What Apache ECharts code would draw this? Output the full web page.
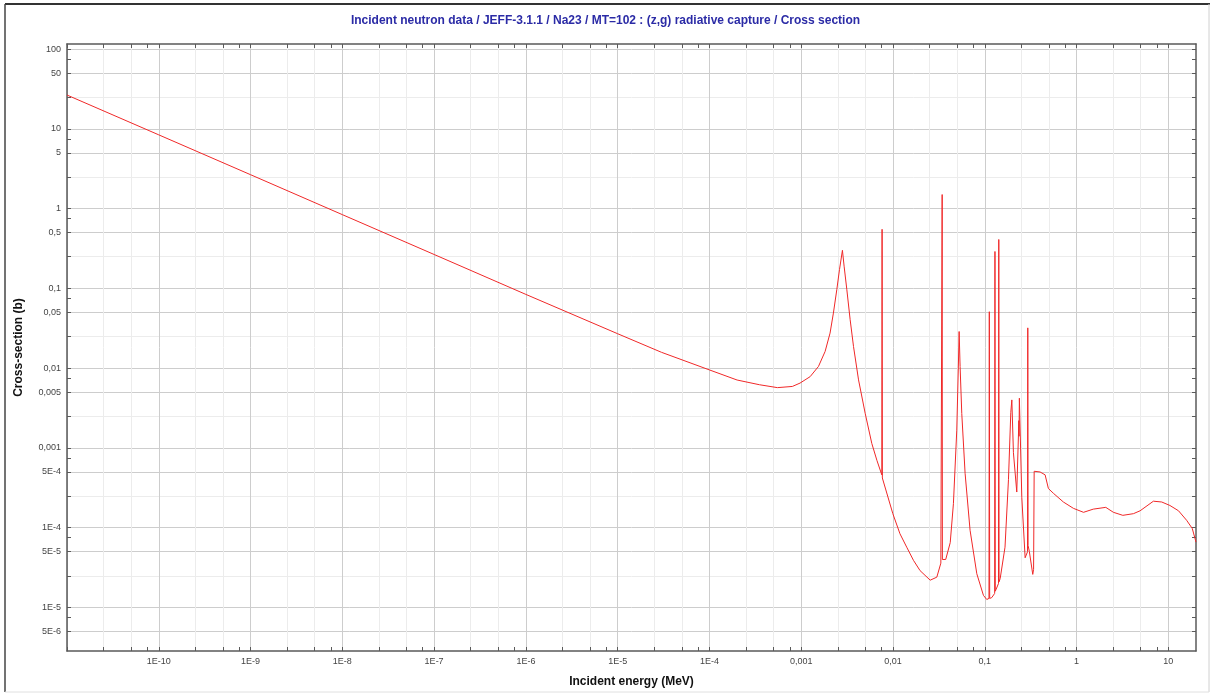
<!DOCTYPE html>
<html>
<head>
<meta charset="utf-8">
<title>Na23 (z,g) radiative capture</title>
<script src="https://cdn.jsdelivr.net/npm/echarts@6/dist/echarts.min.js"></script>
<style>
  html, body { margin: 0; padding: 0; background: #fff; }
  #chart { width: 1211px; height: 696px; }
</style>
</head>
<body>
<div id="chart"></div>
<script>
// thermal 1/v part (MeV, barn)
const energyLow = [1e-11, 1e-10, 1e-9, 1e-8, 1e-7, 1e-6, 1e-5, 3e-5, 1e-4, 2e-4, 3.5e-4, 5.5e-4, 8e-4, 9.7e-4];
const sigmaLow = [26.5, 8.4, 2.66, 0.84, 0.266, 0.084, 0.027, 0.0158, 0.0095, 0.0071, 0.0062, 0.0057, 0.0059, 0.0065];

// resolved resonances
const energyRes = [
  1.25e-3, 1.54e-3, 1.82e-3, 2.06e-3, 2.24e-3, 2.44e-3, 2.61e-3, 2.81e-3,
  2.93e-3, 3.14e-3, 3.41e-3, 3.71e-3, 4.21e-3, 4.97e-3, 5.87e-3, 6.67e-3,
  7.55e-3, 7.6e-3, 7.65e-3,
  9.95e-3, 0.0119, 0.0141, 0.0167, 0.0197, 0.0254, 0.030, 0.0332,
  0.0341, 0.0343, 0.0345, 0.0375,
  0.0420, 0.0455, 0.0495, 0.0516, 0.0525, 0.0538, 0.0561, 0.061, 0.0691, 0.0818, 0.0966, 0.105,
  0.111, 0.112, 0.113, 0.119,
  0.128, 0.129, 0.130, 0.133,
  0.141, 0.142, 0.143, 0.147,
  0.166, 0.181, 0.192, 0.197, 0.205, 0.223, 0.235, 0.236, 0.238, 0.253, 0.275,
  0.292, 0.294, 0.296, 0.306, 0.333, 0.340
];
const sigmaRes = [
  0.00783, 0.0105, 0.0162, 0.0275, 0.049, 0.0964, 0.172, 0.30,
  0.19, 0.096, 0.0405, 0.0187, 0.00713, 0.00272, 0.00114, 7.0e-4,
  4.6e-4, 0.55, 4.2e-4,
  1.5e-4, 8.4e-5, 5.7e-5, 3.9e-5, 2.9e-5, 2.2e-5, 2.4e-5, 3.6e-5,
  3.8e-5, 1.5, 4.0e-5, 4.0e-5,
  6.5e-5, 2.0e-4, 1.67e-3, 0.0116, 0.0288, 0.0105, 2.7e-3, 4.8e-4, 9.3e-5, 2.65e-5, 1.42e-5, 1.26e-5,
  1.3e-5, 0.051, 1.3e-5, 1.33e-5,
  1.5e-5, 0.29, 1.6e-5, 1.7e-5,
  2.0e-5, 0.41, 2.1e-5, 2.3e-5,
  5.7e-5, 4.0e-4, 0.0028, 0.0040, 8.7e-4, 2.8e-4, 0.0022, 0.0014, 0.0042, 2.4e-4, 4.2e-5,
  5.0e-5, 0.032, 6.0e-5, 5.0e-5, 2.6e-5, 3.0e-5
];

// fast range up to 20 MeV
const energyHigh = [0.345, 0.40, 0.454, 0.493, 0.559, 0.718, 0.923, 1.19, 1.52, 2.08, 2.52, 3.19, 4.16, 4.92, 6.87, 8.47, 10.4, 12.9, 15.8, 18.2, 20];
const sigmaHigh = [5.1e-4, 5.0e-4, 4.6e-4, 3.1e-4, 2.7e-4, 2.1e-4, 1.75e-4, 1.56e-4, 1.71e-4, 1.8e-4, 1.56e-4, 1.43e-4, 1.5e-4, 1.63e-4, 2.15e-4, 2.1e-4, 1.9e-4, 1.63e-4, 1.24e-4, 9.8e-5, 6.6e-5];

// axes
const xMin = 1e-11, xMax = 20;
const yMin = 2.85e-6, yMax = 115.6;
const xTickValues = [1e-10, 1e-9, 1e-8, 1e-7, 1e-6, 1e-5, 1e-4, 1e-3, 1e-2, 0.1, 1, 10];
const xTickLabels = ['1E-10', '1E-9', '1E-8', '1E-7', '1E-6', '1E-5', '1E-4', '0,001', '0,01', '0,1', '1', '10'];
const yTickValues = [100, 50, 10, 5, 1, 0.5, 0.1, 0.05, 0.01, 0.005, 0.001, 5e-4, 1e-4, 5e-5, 1e-5, 5e-6];
const yTickLabels = ['100', '50', '10', '5', '1', '0,5', '0,1', '0,05', '0,01', '0,005', '0,001', '5E-4', '1E-4', '5E-5', '1E-5', '5E-6'];
const xTickSteps = [1, 2.5, 5, 7.5];
const xLightSteps = [2.5, 5];
const yTickSteps = [1, 2.5, 5, 7.5];
const yMajorSteps = [1, 5];
const yLightSteps = [2.5];

const lg = Math.log10;
const FONT = '"Liberation Sans", Arial, sans-serif';

// positions (in log10) of ticks per decade inside [lo, hi]
function decadeValues(lo, hi, steps) {
  const out = [];
  for (let e = Math.floor(lg(lo)) - 1; e <= Math.ceil(lg(hi)); e++) {
    steps.forEach(s => {
      const v = lg(s) + e;
      if (v >= lg(lo) - 1e-9 && v <= lg(hi) + 1e-9) out.push(v);
    });
  }
  return out;
}
function labelFor(values, labels) {
  return v => {
    const i = values.findIndex(t => Math.abs(lg(t) - v) < 1e-6);
    return i < 0 ? '' : labels[i];
  };
}

const energy = energyLow.concat(energyRes, energyHigh);
const sigma = sigmaLow.concat(sigmaRes, sigmaHigh);
const points = energy.map((e, i) => [lg(e), lg(sigma[i])]);

const frameLine = { show: true, onZero: false, lineStyle: { color: '#5a5a5a', width: 1.5 } };
const tickStyle = { color: '#5a5a5a', width: 1 };
const labelStyle = { fontFamily: FONT, fontSize: 9, color: '#444' };
const nameStyle = { fontFamily: FONT, fontSize: 12, fontWeight: 'bold', color: '#111' };
const xRange = { type: 'value', min: lg(xMin), max: lg(xMax) };
const yRange = { type: 'value', min: lg(yMin), max: lg(yMax) };
const xTicksAll = decadeValues(xMin, xMax, xTickSteps);
const yTicksAll = decadeValues(yMin, yMax, yTickSteps);

function gridAxis(range, pos, values, color) {
  return Object.assign({}, range, {
    position: pos,
    axisLine: { show: false, onZero: false },
    axisTick: { show: false, customValues: values },
    axisLabel: { show: false },
    splitLine: { show: true, lineStyle: { color: color, width: 1 } }
  });
}

const chart = echarts.init(document.getElementById('chart'));
chart.setOption({
  animation: false,
  title: {
    text: 'Incident neutron data / JEFF-3.1.1 / Na23 / MT=102 : (z,g) radiative capture / Cross section',
    left: 'center',
    top: 10,
    textStyle: { fontFamily: FONT, fontSize: 12, fontWeight: 'bold', color: '#2b2ba6' }
  },
  graphic: [
    { type: 'line', shape: { x1: 5, y1: 4, x2: 1210, y2: 4 }, style: { stroke: '#333', lineWidth: 2 } },
    { type: 'line', shape: { x1: 5, y1: 4, x2: 5, y2: 692 }, style: { stroke: '#444', lineWidth: 1.5 } },
    { type: 'line', shape: { x1: 1209, y1: 4, x2: 1209, y2: 692 }, style: { stroke: '#d0d0d0', lineWidth: 1 } },
    { type: 'line', shape: { x1: 5, y1: 692, x2: 1209, y2: 692 }, style: { stroke: '#e0e0e0', lineWidth: 1 } }
  ],
  grid: { left: 67, right: 15, top: 44, bottom: 45, outerBoundsMode: 'none' },
  xAxis: [
    Object.assign({}, xRange, {
      position: 'bottom',
      name: 'Incident energy (MeV)',
      nameLocation: 'middle',
      nameGap: 25,
      nameTextStyle: nameStyle,
      axisLine: frameLine,
      axisTick: { show: true, inside: true, length: 4, customValues: xTicksAll, lineStyle: tickStyle },
      axisLabel: Object.assign({ customValues: xTickValues.map(lg), formatter: labelFor(xTickValues, xTickLabels), margin: 6 }, labelStyle),
      splitLine: { show: false }
    }),
    Object.assign({}, xRange, {
      position: 'top',
      axisLine: frameLine,
      axisTick: { show: true, inside: true, length: 4, customValues: xTicksAll, lineStyle: tickStyle },
      axisLabel: { show: false },
      splitLine: { show: false }
    }),
    gridAxis(xRange, 'top', decadeValues(xMin, xMax, xLightSteps), '#ececec'),
    gridAxis(xRange, 'top', decadeValues(xMin, xMax, [1]), '#cdcdcd')
  ],
  yAxis: [
    Object.assign({}, yRange, {
      position: 'left',
      name: 'Cross-section (b)',
      nameLocation: 'middle',
      nameGap: 42,
      nameTextStyle: nameStyle,
      axisLine: frameLine,
      axisTick: { show: true, inside: true, length: 4, customValues: yTicksAll, lineStyle: tickStyle },
      axisLabel: Object.assign({ customValues: yTickValues.map(lg), formatter: labelFor(yTickValues, yTickLabels), margin: 6 }, labelStyle),
      splitLine: { show: false }
    }),
    Object.assign({}, yRange, {
      position: 'right',
      axisLine: frameLine,
      axisTick: { show: true, inside: true, length: 4, customValues: yTicksAll, lineStyle: tickStyle },
      axisLabel: { show: false },
      splitLine: { show: false }
    }),
    gridAxis(yRange, 'right', decadeValues(yMin, yMax, yLightSteps), '#ececec'),
    gridAxis(yRange, 'right', decadeValues(yMin, yMax, yMajorSteps), '#cdcdcd')
  ],
  series: [
    {
      type: 'line',
      xAxisIndex: 0,
      yAxisIndex: 0,
      data: points,
      showSymbol: false,
      symbol: 'none',
      clip: true,
      smooth: false,
      lineStyle: { color: '#f02828', width: 1 },
      z: 5
    }
  ]
});
</script>
</body>
</html>
